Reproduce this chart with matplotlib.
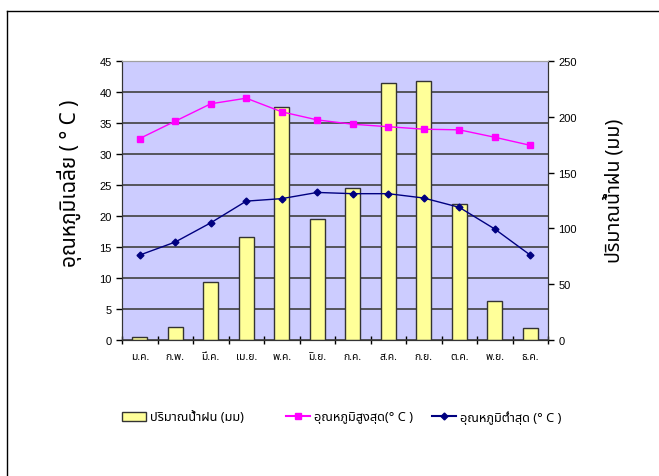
import matplotlib
matplotlib.use("Agg")
import matplotlib.pyplot as plt
from matplotlib import font_manager
from matplotlib.ft2font import FT2Font
from matplotlib.lines import Line2D
from matplotlib.patches import Patch
import numpy as np

# ข้อมูลรายเดือน
months = ["ม.ค.", "ก.พ.", "มี.ค.", "เม.ย.", "พ.ค.", "มิ.ย.",
          "ก.ค.", "ส.ค.", "ก.ย.", "ต.ค.", "พ.ย.", "ธ.ค."]
rain_mm = [3, 12, 52, 92, 209, 108, 136, 230, 232, 122, 35, 11]
temp_max = [32.5, 35.3, 38.1, 39.0, 36.8, 35.5, 34.8, 34.4, 34.0, 33.9, 32.7, 31.4]
temp_min = [13.7, 15.8, 18.9, 22.4, 22.8, 23.8, 23.6, 23.6, 22.9, 21.4, 17.9, 13.7]
left_ticks = [0, 5, 10, 15, 20, 25, 30, 35, 40, 45]
right_ticks = [0, 50, 100, 150, 200, 250]

label_left = "อุณหภูมิเฉลี่ย ( ° C )"
label_right = "ปริมาณน้ำฝน (มม)"
leg_rain = "ปริมาณน้ำฝน (มม)"
leg_max = "อุณหภูมิสูงสุด(° C )"
leg_min = "อุณหภูมิต่ำสุด (° C )"


# หาฟอนต์ที่มีอักษรไทย
def find_thai_font():
    found = []
    for f in font_manager.fontManager.ttflist:
        try:
            ft = FT2Font(f.fname)
            if ft.get_char_index(ord("ก")) != 0:
                found.append(f.name)
        except Exception:
            pass
    for pref in ["Tahoma", "Noto Sans Thai", "Loma", "Garuda", "Norasi"]:
        if pref in found:
            return pref
    return found[0] if found else "DejaVu Sans"


thai = find_thai_font()
fam = [thai, "DejaVu Sans"]
num_font = "Liberation Sans"

fig = plt.figure(figsize=(6.59, 4.77), dpi=100)
rect = [122 / 659, 1 - 341 / 477, (548 - 122) / 659, (341 - 62) / 477]

ax = fig.add_axes(rect)
ax.set_facecolor("#ccccff")
x = np.arange(len(months))
ax.set_xlim(-0.5, len(months) - 0.5)
ax.set_ylim(0, 45)
ax.set_yticks(left_ticks)
ax.grid(axis="y", color="#404040", linewidth=1.2)
ax.set_axisbelow(True)

ax2 = ax.twinx()
ax2.set_ylim(0, 250)
ax2.set_yticks(right_ticks)
ax2.bar(x, rain_mm, width=0.42, color="#ffff99", edgecolor="#333333", linewidth=1)

ax3 = fig.add_axes(rect, sharex=ax, sharey=ax)
ax3.patch.set_visible(False)
ax3.axis("off")
ax3.plot(x, temp_max, color="#ff00ff", marker="s", markersize=4, linewidth=1)
ax3.plot(x, temp_min, color="#000080", marker="D", markersize=3.5, linewidth=1)

# แกน x: ขีดระหว่างเดือน
ax.set_xticks(x)
ax.set_xticklabels(months, family=fam, fontsize=7.5)
ax.set_xticks(np.arange(len(months) + 1) - 0.5, minor=True)
ax.tick_params(axis="x", which="major", length=0, pad=8)
ax.tick_params(axis="x", which="minor", length=6, direction="inout", width=1)
ax.tick_params(axis="y", length=4, width=1, labelsize=8)
ax2.tick_params(axis="y", length=4, width=1, labelsize=8)
for lab in ax.get_yticklabels() + ax2.get_yticklabels():
    lab.set_family(num_font)

for a in (ax, ax2):
    a.spines["top"].set_color("#a0a0a0")
    a.spines["right"].set_color("#333333")
    a.spines["left"].set_color("#333333")
    a.spines["bottom"].set_color("#333333")

fig.text(70 / 659, 1 - 183 / 477, label_left, rotation=90, ha="center", va="center",
         family=fam, fontsize=15, fontweight="bold")
fig.text(614 / 659, 1 - 191 / 477, label_right, rotation=90, ha="center", va="center",
         family=fam, fontsize=14, fontweight="bold")

# คำอธิบายสัญลักษณ์ (แยกเป็นสามกล่อง)
items = [
    (Patch(facecolor="#ffff99", edgecolor="#333333", label=leg_rain), 117),
    (Line2D([], [], color="#ff00ff", marker="s", markersize=4, label=leg_max), 281),
    (Line2D([], [], color="#000080", marker="D", markersize=3.5, label=leg_min), 427),
]
for h, px in items:
    fig.legend(handles=[h], loc="center left", frameon=False,
               bbox_to_anchor=(px / 659, 1 - 418 / 477), prop={"family": fam, "size": 9.2},
               handlelength=1.9, handletextpad=0.3, borderaxespad=0)

# กรอบรอบรูป
fig.add_artist(Line2D([7 / 659, 7 / 659], [0, 1 - 12 / 477], color="black", linewidth=1))
fig.add_artist(Line2D([7 / 659, 1], [1 - 12 / 477, 1 - 12 / 477], color="black", linewidth=1))

fig.savefig("out.png", dpi=100)
